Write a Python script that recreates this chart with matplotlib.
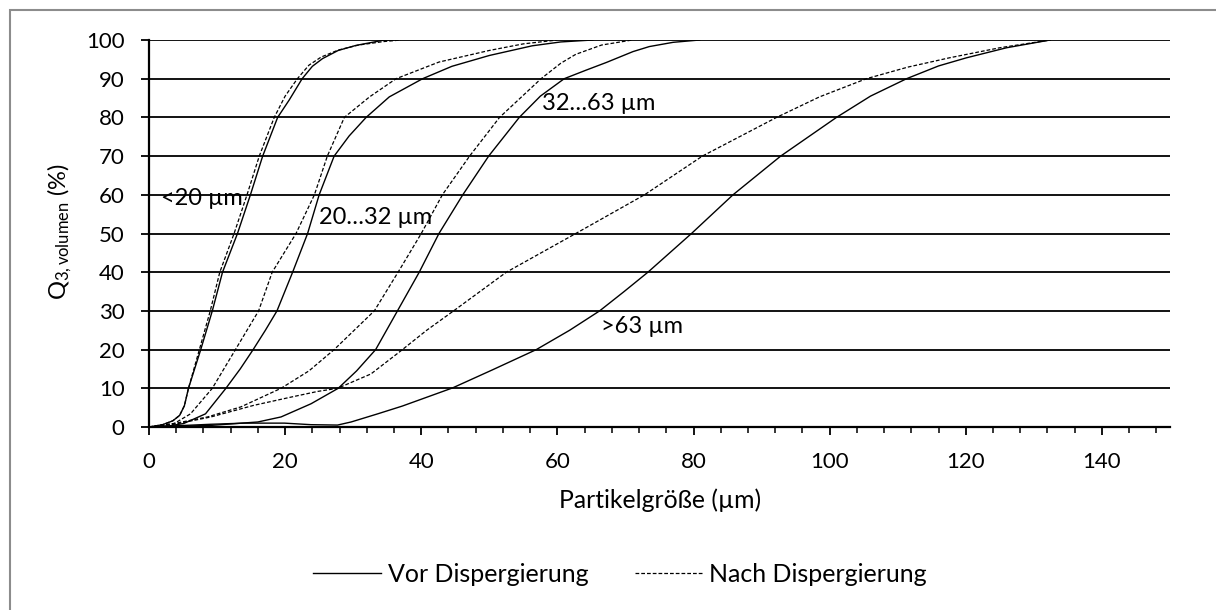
import matplotlib
matplotlib.use("Agg")
import matplotlib.pyplot as plt
from matplotlib.patches import Rectangle
from matplotlib.ticker import MultipleLocator

plt.rcParams['font.family'] = ['Lato', 'DejaVu Sans']
plt.rcParams['mathtext.fontset'] = 'custom'
plt.rcParams['mathtext.rm'] = 'Lato'
plt.rcParams['mathtext.it'] = 'Lato:italic'

# Cumulative volume distributions Q3 per size fraction, before/after dispersion
frac_lt20_vor_x = [0, 2, 3.5, 4.5, 5.2, 5.8, 6.7, 7.6, 9.3, 10.8, 13.0, 14.9, 16.7, 18.9, 20.6, 22.5, 24.0, 25.5, 27.8, 30.4, 34.3, 36.0]
frac_lt20_vor_y = [0, 0.6, 1.6, 3.0, 5.5, 10, 15, 20, 30, 40, 50, 60, 70, 80, 84.5, 90, 93.2, 95.2, 97.3, 98.6, 99.9, 100]
frac_lt20_nach_x = [0, 2, 3.5, 4.5, 5.2, 5.8, 6.6, 7.4, 9.0, 10.4, 12.5, 14.4, 16.2, 18.4, 20.0, 21.8, 23.5, 25.3, 27.8, 30.8, 34.5, 37.0]
frac_lt20_nach_y = [0, 0.6, 1.6, 3.0, 5.5, 10, 15, 20, 30, 40, 50, 60, 70, 80, 85.5, 90, 93.5, 95.6, 97.4, 98.7, 99.6, 100]

frac_20_32_vor_x = [0, 3, 5.1, 8.3, 11.3, 13.4, 15.3, 17.1, 18.8, 21.1, 23.3, 25.0, 27.2, 29.4, 31.9, 35.3, 40.2, 44.5, 50, 56.3, 60.5, 65.2]
frac_20_32_vor_y = [0, 0.3, 0.9, 3.4, 10, 15, 20, 25, 30, 40, 50, 60, 70, 75.2, 80, 85.3, 90, 93.2, 96, 98.5, 99.5, 100]
frac_20_32_nach_x = [0, 3.7, 6.1, 9.3, 12.7, 16.1, 18.1, 21.6, 24.3, 26.2, 28.7, 32.4, 36.3, 42.6, 50, 55, 60]
frac_20_32_nach_y = [0, 0.9, 3.4, 10, 20, 30, 40, 50, 60, 70, 80, 85.3, 90, 94.3, 97.3, 99.0, 100]

frac_32_63_vor_x = [0, 9, 16, 19.4, 23.8, 27.8, 30.5, 33.3, 36.5, 39.7, 42.6, 46.1, 49.9, 54.4, 57.5, 61.0, 64.2, 67.2, 71.1, 73.5, 77.0, 80.9]
frac_32_63_vor_y = [0, 0.4, 1.3, 2.6, 6, 10, 14.5, 20, 30, 40, 50, 60, 70, 80, 85.5, 90, 92.2, 94.2, 97.0, 98.3, 99.4, 100]
frac_32_63_nach_x = [0, 4, 8.6, 13.5, 19.4, 23.5, 27.2, 33.1, 36.8, 40, 43.1, 47.1, 51.5, 57.6, 60.5, 62.7, 66.5, 71]
frac_32_63_nach_y = [0, 1.0, 2.6, 5.2, 10, 14.5, 20, 30, 40.6, 50, 60, 70, 80, 90, 94.0, 96.3, 98.7, 100]

frac_gt63_vor_x = [0, 9, 14, 19.9, 23.8, 27.7, 29.7, 33.6, 37.2, 44.6, 50.5, 56.9, 61.8, 66.2, 69.8, 73.3, 79.7, 85.8, 92.8, 101, 106, 111.3, 116, 120.1, 126, 132.4]
frac_gt63_vor_y = [0, 0.7, 1.0, 1.0, 0.6, 0.5, 1.3, 3.4, 5.4, 10.1, 14.8, 20, 25, 30, 35, 40, 50, 60, 70, 80, 85.5, 90, 93.3, 95.4, 98, 100]
frac_gt63_nach_x = [0, 3.7, 9.1, 15.4, 20.8, 24.8, 27.7, 32.6, 36.8, 40.8, 44.9, 52.5, 62.7, 72.8, 81.3, 92.2, 98.5, 105.4, 111.5, 117.6, 125, 132.4]
frac_gt63_nach_y = [0, 0.7, 2.6, 5.6, 7.7, 9.2, 10, 13.7, 19.4, 25, 30.2, 40, 50, 60, 70, 80, 85.3, 90, 93, 95.4, 98, 100]

fraction_labels = ["<20 µm", "20…32 µm", "32…63 µm", ">63 µm"]
label_x = [1.7, 25.0, 57.8, 66.4]
label_y = [59.0, 54.2, 83.6, 25.9]

x_ticks = [0, 20, 40, 60, 80, 100, 120, 140]
y_ticks = [0, 10, 20, 30, 40, 50, 60, 70, 80, 90, 100]

W, H = 1216, 610
fig = plt.figure(figsize=(W / 100, H / 100), dpi=100)
ax = fig.add_axes([149 / W, 1 - 427 / H, (1170 - 149) / W, (427 - 40) / H])

solid = dict(color='black', lw=1.0, ls='-')
dashed = dict(color='black', lw=0.9, ls=(0, (3, 1.6)))

vor_series = [(frac_lt20_vor_x, frac_lt20_vor_y), (frac_20_32_vor_x, frac_20_32_vor_y),
              (frac_32_63_vor_x, frac_32_63_vor_y), (frac_gt63_vor_x, frac_gt63_vor_y)]
nach_series = [(frac_lt20_nach_x, frac_lt20_nach_y), (frac_20_32_nach_x, frac_20_32_nach_y),
               (frac_32_63_nach_x, frac_32_63_nach_y), (frac_gt63_nach_x, frac_gt63_nach_y)]

h_vor = h_nach = None
for xs, ys in vor_series:
    h_vor, = ax.plot(xs, ys, **solid, zorder=3)
for xs, ys in nach_series:
    h_nach, = ax.plot(xs, ys, **dashed, zorder=3)

for t, lx, ly in zip(fraction_labels, label_x, label_y):
    ax.text(lx, ly, t, ha='left', va='center', fontsize=17, zorder=4)

ax.set_xlim(0, 150)
ax.set_ylim(0, 100)
ax.set_xticks(x_ticks)
ax.set_yticks(y_ticks)
ax.xaxis.set_minor_locator(MultipleLocator(4))
ax.yaxis.grid(True, color='black', lw=1.3)
ax.set_axisbelow(True)

for s in ['top', 'right']:
    ax.spines[s].set_visible(False)
for s in ['left', 'bottom']:
    ax.spines[s].set_linewidth(1.6)
    ax.spines[s].set_color('black')

ax.tick_params(axis='x', which='major', direction='out', length=6, width=1.3, pad=12, labelsize=16)
ax.tick_params(axis='x', which='minor', direction='out', length=4, width=1.1)
ax.tick_params(axis='y', which='major', direction='out', length=5.5, width=1.3, pad=12, labelsize=16)

fig.text(60 / W, 1 - 232 / H, r'Q$_{\mathregular{3,volumen}}$ (%)', rotation=90,
         ha='center', va='center', fontsize=17)
fig.text(660 / W, 1 - 500 / H, 'Partikelgröße (µm)', ha='center', va='center', fontsize=17.8)

fig.legend([h_vor, h_nach], ['Vor Dispergierung', 'Nach Dispergierung'],
           loc='center', bbox_to_anchor=(620 / W, 1 - 574 / H), ncol=2, frameon=False,
           fontsize=18, handlelength=2.7, handletextpad=0.28, columnspacing=1.85,
           borderpad=0, borderaxespad=0)

fig.patches.append(Rectangle((10 / W, -0.1), 2, 1.1 - 10 / H, transform=fig.transFigure,
                             fill=False, edgecolor='#8c8c8c', lw=1.5))

fig.savefig('out.png', dpi=100)
